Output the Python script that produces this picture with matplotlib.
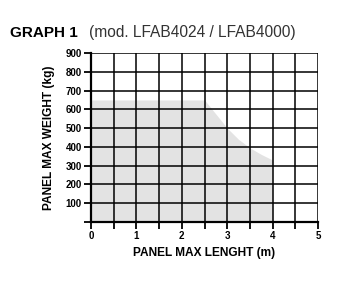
import matplotlib
matplotlib.use("Agg")
import matplotlib.pyplot as plt
import numpy as np

plt.rcParams['font.family'] = ['Liberation Sans', 'DejaVu Sans']

# max weight curve (m, kg)
length_m = [0, 2.5, 2.75, 3.0, 3.25, 3.5, 3.75, 4.0]
weight_kg = [650, 650, 575, 500, 440, 395, 360, 330]

x_ticks = [0, 1, 2, 3, 4, 5]
y_ticks = [100, 200, 300, 400, 500, 600, 700, 800, 900]

fig = plt.figure(figsize=(3.45, 2.83), dpi=100)
ax = fig.add_axes([91/345, 1 - 222/283, 227/345, 169/283])

ax.fill_between(length_m, weight_kg, 0, color='#e3e3e3', lw=0, zorder=1)

# grid: every 0.5 m and every 100 kg
for gx in np.arange(0.5, 5.01, 0.5):
    ax.axvline(gx, color='black', lw=1.1, zorder=2)
for gy in y_ticks:
    ax.axhline(gy, color='black', lw=1.1, zorder=2)

ax.set_xlim(0, 5)
ax.set_ylim(0, 900)
for s in ['top', 'right']:
    ax.spines[s].set_visible(False)
for s in ['left', 'bottom']:
    ax.spines[s].set_linewidth(1.6)
    ax.spines[s].set_zorder(3)

ax.set_xticks(x_ticks)
ax.set_xticks(np.arange(0.5, 5, 1.0), minor=True)
ax.set_yticks([0] + y_ticks)
ax.set_yticklabels([''] + [str(v) for v in y_ticks])
ax.tick_params(axis='both', which='both', direction='out', length=5, width=1.3,
               color='black', labelsize=7, pad=1.5)
for lab in ax.get_xticklabels() + ax.get_yticklabels():
    lab.set_fontweight('bold')

ax.set_xlabel('PANEL MAX LENGHT (m)', fontsize=8.6, fontweight='bold', labelpad=4)
ax.set_ylabel('PANEL MAX WEIGHT (kg)', fontsize=8.6, fontweight='bold', labelpad=8)

fig.text(10/345, 1 - 33/283, 'GRAPH 1', fontsize=11, fontweight='bold', va='center')
fig.text(89/345, 1 - 33/283, '(mod. LFAB4024 / LFAB4000)', fontsize=11.2,
         color='#333333', va='center')

fig.savefig('out.png', dpi=100)
